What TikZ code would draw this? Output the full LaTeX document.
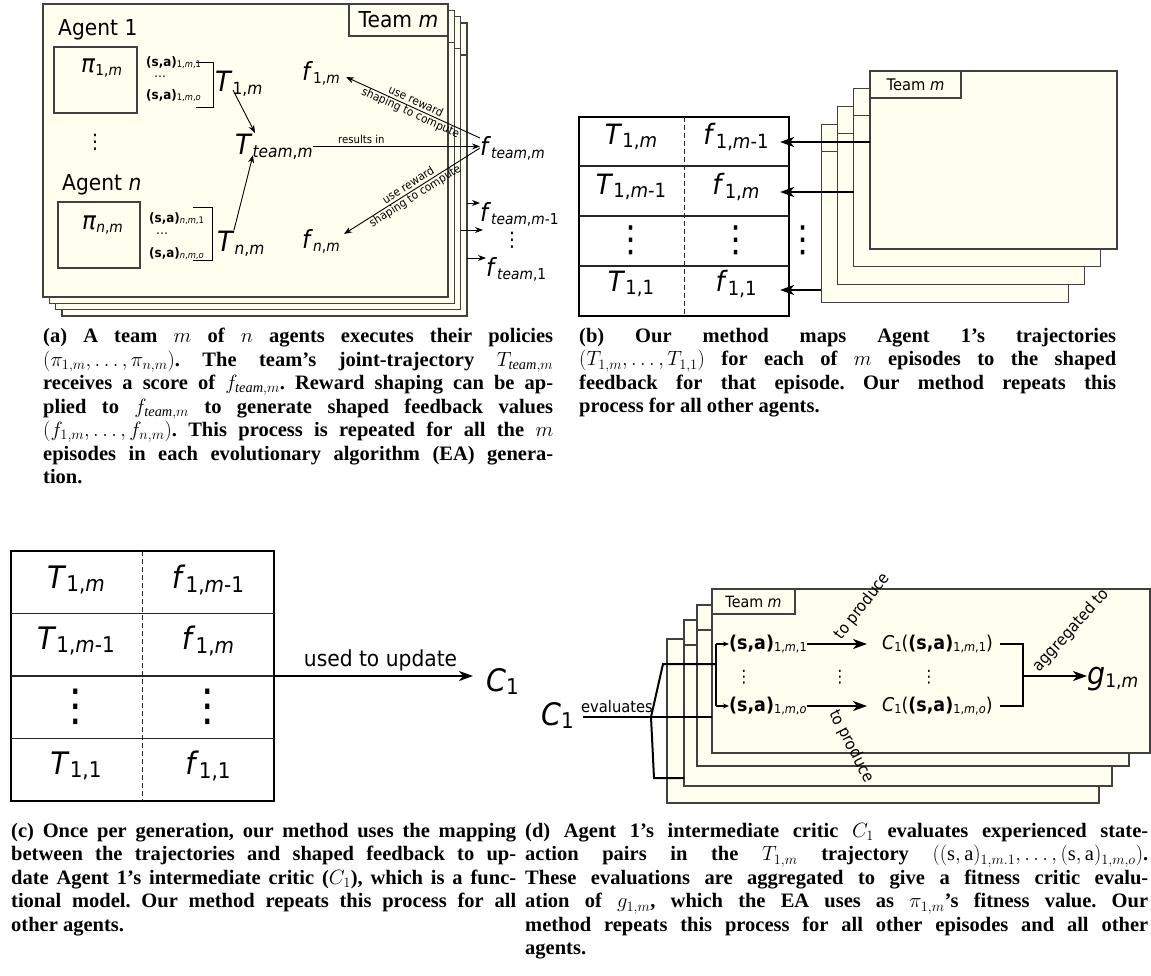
\documentclass[tikz,border=0pt]{standalone}
\usepackage{fontspec}
\usepackage{graphicx}
\setmainfont{Liberation Serif}
\newfontfamily\dia[FakeStretch=0.92]{DejaVu Sans}
\usetikzlibrary{arrows.meta,calc}

\definecolor{cream}{RGB}{255,255,240}
\definecolor{framegray}{RGB}{64,64,64}

\newcommand{\fsz}[1]{\fontsize{#1bp}{#1bp}\selectfont}
\newcommand{\sbs}[2][0.6]{\raisebox{-0.12em}{\scalebox{#1}{#2}}}
\newcommand{\vi}[1]{\textit{#1}}
\newlength{\capw}
\newcommand{\jl}[1]{\makebox[\capw][s]{#1}}

\tikzset{
    teamframe/.style={draw=framegray, fill=cream, line width=1.2bp},
    polbox/.style={draw=framegray, line width=1.2bp},
    brack/.style={draw=black, line width=0.9bp},
    tbl/.style={draw=black, line width=2.2bp, inner sep=0pt},
    rowline/.style={draw=black!85, line width=1.3bp},
    colsep/.style={draw=black!85, line width=0.9bp, dash pattern=on 5bp off 3bp},
    txt/.style={inner sep=0pt, font=\dia\fsz{#1}},
    txtb/.style={inner sep=0pt, font=\dia\bfseries\fsz{#1}},
    thinarr/.style={-{Stealth[length=8bp,width=6bp]}, line width=0.9bp},
    thickarr/.style={-{Stealth[length=14bp,width=10bp,inset=4bp]}, line width=2.2bp},
    forkline/.style={line width=2bp},
    smallarr/.style={-{Stealth[length=6bp,width=5bp]}, line width=2bp},
    capt/.style={inner sep=0pt, anchor=north west, align=left,
        font=\fontsize{20.5bp}{23.5bp}\bfseries\frenchspacing\selectfont,
        execute at begin node={\setlength{\capw}{#1}}},
}

\begin{document}
\begin{tikzpicture}[x=1bp,y=-1bp]
    \useasboundingbox (0,0) rectangle (1151,976);

    % ---------- (a) one team of n agents ----------
    % team frames, back to front
    \foreach \k in {3,2,1,0} {
        \draw [teamframe] ({43+6.3*\k},{4+6.3*\k}) rectangle ({448+6.3*\k},{297+6.3*\k});
        \draw [teamframe] ({349+6.3*\k},{4+6.3*\k}) rectangle ({448+6.3*\k},{36+6.3*\k});
    }
    \node [txt=22] (aTeam) at (398.5,20) {Team \vi{m}};

    % agent 1
    \node [txt=22,anchor=base west] (agent1) at (58,35) {Agent 1};
    \draw [polbox] (54,47) rectangle (137,113);
    \node [txt=25,anchor=base west] (pi1) at (81,72) {\vi{π}\sbs{1,\vi{m}}};
    \node [txtb=13,anchor=base west] (sa1a) at (146,66) {(s,a)\sbs[0.7]{\mdseries 1,\vi{m},1}};
    \node [txt=13] (sa1dots) at (160,77) {\dots};
    \node [txtb=13,anchor=base west] (sa1b) at (146,99) {(s,a)\sbs[0.7]{\mdseries 1,\vi{m},\vi{o}}};
    \draw [brack] (196,62) -- (213,62) -- (213,107) -- (196,107);
    \node [txt=28,anchor=base west] (T1) at (215,91) {\vi{T}\sbs{1,\vi{m}}};

    \node [txt=20] (adots) at (95,142) {⋮};

    % agent n
    \node [txt=22,anchor=base west] (agentn) at (62,190) {Agent \vi{n}};
    \draw [polbox] (58,202) rectangle (140,268);
    \node [txt=25,anchor=base west] (pin) at (82,229) {\vi{π}\sbs{\vi{n},\vi{m}}};
    \node [txtb=13,anchor=base west] (sana) at (149,222) {(s,a)\sbs[0.7]{\mdseries\vi{n},\vi{m},1}};
    \node [txt=13] (sandots) at (162,234) {\dots};
    \node [txtb=13,anchor=base west] (sanb) at (149,257) {(s,a)\sbs[0.7]{\mdseries\vi{n},\vi{m},\vi{o}}};
    \draw [brack] (193,207) -- (212,207) -- (212,260) -- (193,260);
    \node [txt=28,anchor=base west] (Tn) at (217,251) {\vi{T}\sbs{\vi{n},\vi{m}}};

    % joint trajectory and shaped feedback
    \node [txt=28,anchor=base west] (Tteam) at (235,154) {\vi{T}\sbs{\vi{team},\vi{m}}};
    \node [txt=25,anchor=base west] (f1) at (302,80) {\vi{f}\sbs{1,\vi{m}}};
    \node [txt=25,anchor=base west] (fn) at (302,248) {\vi{f}\sbs{\vi{n},\vi{m}}};
    \node [txt=25,anchor=base west] (fteam) at (480,155) {\vi{f}\sbs{\vi{team},\vi{m}}};

    \draw [thinarr] ($(T1.base west)+(18,-1)$) -- ($(Tteam.base west)+(20,-21)$);
    \draw [thinarr] ($(Tn.base west)+(17,-21)$) -- ($(Tteam.base west)+(18,1)$);
    \draw [thinarr] (Tteam.east) -- (Tteam.east -| fteam.west)
        node [pos=0.29,above=2bp,txt=11] (resultsin) {results in};
    \draw [thinarr] ($(fteam.base west)+(0,-17)$) -- ($(f1.base east)+(6,-3)$)
        node [midway,sloped,align=center,inner sep=0pt,font=\dia\fontsize{11.5bp}{12.5bp}\selectfont] (shape1) {use reward\\shaping to compute};
    \draw [thinarr] ($(fteam.base west)+(0,-7)$) -- ($(fn.base east)+(4,-14)$)
        node [midway,sloped,align=center,inner sep=0pt,font=\dia\fontsize{11.5bp}{12.5bp}\selectfont] (shapen) {use reward\\shaping to compute};

    % other episodes of the generation
    \node [txt=25,anchor=base west] (ftm1) at (480,221) {\vi{f}\sbs{\vi{team},\vi{m}-1}};
    \node [txt=20] (fdots) at (512,240) {⋮};
    \node [txt=25,anchor=base west] (ft1) at (486,276) {\vi{f}\sbs{\vi{team},1}};
    \coordinate (aEdge1) at (466.9,203);
    \coordinate (aEdge2) at (460.6,230);
    \coordinate (aEdge3) at (466.9,258);
    \coordinate (aTipDots) at (483,230);
    \draw [thinarr] (aEdge1) -- (aEdge1 -| ftm1.west);
    \draw [thinarr] (aEdge2) -- (aTipDots);
    \draw [thinarr] (aEdge3) -- (aEdge3 -| ft1.west);

    % ---------- (b) trajectories mapped to feedback ----------
    \foreach \k in {3,2,1,0} {
        \draw [teamframe] ({870-16.3*\k},{71+17.7*\k}) rectangle ({1117-16.3*\k},{249+17.7*\k});
        \draw [teamframe] ({870-16.3*\k},{71+17.7*\k}) rectangle ({961-16.3*\k},{98+17.7*\k});
    }
    \node [txt=16] (bTeam) at (915.5,84.5) {Team \vi{m}};

    \node [tbl,minimum width=210bp,minimum height=199bp] (bTab) at (684,216.5) {};
    \foreach \y in {166,216,266} \draw [rowline] (579,\y) -- (789,\y);
    \draw [colsep] (684,117) -- (684,316);
    \node [txt=28] (bT1) at (631,137) {\vi{T}\sbs[0.7]{1,\vi{m}}};
    \node [txt=28] (bf1) at (736,137) {\vi{f}\sbs[0.7]{1,\vi{m}-1}};
    \node [txt=28] (bT2) at (631,187) {\vi{T}\sbs[0.7]{1,\vi{m}-1}};
    \node [txt=28] (bf2) at (736,187) {\vi{f}\sbs[0.7]{1,\vi{m}}};
    \node [txt=36] (bT3) at (631,240) {⋮};
    \node [txt=36] (bf3) at (736,240) {⋮};
    \node [txt=36] (bdots) at (803,240) {⋮};
    \node [txt=28] (bT4) at (631,284) {\vi{T}\sbs[0.7]{1,1}};
    \node [txt=28] (bf4) at (736,284) {\vi{f}\sbs[0.7]{1,1}};

    \coordinate (bEdge1) at (870,142);
    \coordinate (bEdge2) at (853.7,192);
    \coordinate (bEdge4) at (821.1,290);
    \draw [thickarr,shorten >=-10bp] (bEdge1) -- (bEdge1 -| bTab.east);
    \draw [thickarr,shorten >=-10bp] (bEdge2) -- (bEdge2 -| bTab.east);
    \draw [thickarr,shorten >=-10bp] (bEdge4) -- (bEdge4 -| bTab.east);

    % ---------- (c) critic update ----------
    \node [tbl,minimum width=263bp,minimum height=250bp] (cTab) at (142.5,676) {};
    \foreach \y in {613.5,676,738.5} \draw [rowline] (11,\y) -- (274,\y);
    \draw [colsep] (142,551) -- (142,801);
    \node [txt=31] (cT1) at (76,580) {\vi{T}\sbs[0.7]{1,\vi{m}}};
    \node [txt=31] (cf1) at (208,580) {\vi{f}\sbs[0.7]{1,\vi{m}-1}};
    \node [txt=31] (cT2) at (76,641) {\vi{T}\sbs[0.7]{1,\vi{m}-1}};
    \node [txt=31] (cf2) at (208,641) {\vi{f}\sbs[0.7]{1,\vi{m}}};
    \node [txt=44] (cT3) at (76,707) {⋮};
    \node [txt=44] (cf3) at (208,707) {⋮};
    \node [txt=31] (cT4) at (76,766) {\vi{T}\sbs[0.7]{1,1}};
    \node [txt=31] (cf4) at (208,766) {\vi{f}\sbs[0.7]{1,1}};

    \node [txt=31,anchor=base west] (cC1) at (486,691) {\vi{C}\sbs[0.7]{1}};
    \draw [thickarr,shorten >=13bp] (cTab.east) -- (cTab.east -| cC1.west)
        node [midway,above=4bp,txt=22] (cUsed) {used to update};

    % ---------- (d) critic evaluates one team ----------
    \foreach \x/\y/\w/\h in {667/639/432/164, 684/620/428/166, 697/605/432/161, 712/589/438/164} {
        \draw [teamframe] (\x,\y) rectangle ++(\w,\h);
        \draw [teamframe] (\x,\y) rectangle ++(83,25);
    }
    \node [txt=15.5] (dTeam) at (753.5,601.5) {Team \vi{m}};

    \node [txt=31,anchor=base west] (dC1) at (541,725) {\vi{C}\sbs[0.7]{1}};
    % fork of the evaluates line
    \coordinate (dFork) at (651,717);
    \coordinate (dUp) at (663,664);
    \coordinate (dUpEnd) at (716,664);
    \coordinate (dMidEnd) at (712,717);
    \coordinate (dDown) at (654,778);
    \coordinate (dDownEnd) at (684,778);
    \coordinate (dBrTop) at (716,644);
    \coordinate (dBrBot) at (716,706);
    \draw [forkline] ($(dC1.east |- dFork)+(9,0)$) -- (dFork)
        node [midway,above=3bp,txt=16] (dEval) {evaluates};
    \draw [forkline] (dUpEnd) -- (dUp) -- (dFork) -- (dDown) -- (dDownEnd);
    \draw [forkline] (dFork) -- (dMidEnd);
    \draw [forkline] (dBrTop) -- (dBrBot);

    \node [txtb=19,anchor=west] (dSA1) at (729,644) {(s,a)\sbs[0.65]{\mdseries 1,\vi{m},1}};
    \node [txtb=19,anchor=west] (dSAo) at (729,706) {(s,a)\sbs[0.65]{\mdseries 1,\vi{m},\vi{o}}};
    \draw [smallarr] (dBrTop) -- (dSA1.west);
    \draw [smallarr] (dBrBot) -- (dSAo.west);

    \node [txt=17] (dd1) at (744,677) {⋮};
    \node [txt=17] (dd2) at (840,677) {⋮};
    \node [txt=17] (dd3) at (929,677) {⋮};

    \node [txt=19,anchor=west] (dCS1) at (882,644) {\vi{C}\sbs[0.65]{1}(\textbf{(s,a)}\sbs[0.65]{1,\vi{m},1})};
    \node [txt=19,anchor=west] (dCSo) at (882,706) {\vi{C}\sbs[0.65]{1}(\textbf{(s,a)}\sbs[0.65]{1,\vi{m},\vi{o}})};
    \draw [thickarr,shorten >=15bp] (dSA1.east) -- (dSA1.east -| dCS1.west)
        node [pos=0.5,anchor=south west,rotate=52,txt=16] (dProd1) {to produce};
    \draw [thickarr,shorten >=15bp] (dSAo.east) -- (dSAo.east -| dCSo.west)
        node [pos=0.45,anchor=north west,rotate=-63,txt=16] (dProdo) {to produce};

    % aggregation
    \coordinate (dJoin) at (1023,676);
    \node [txt=31,anchor=base west] (dG) at (1087,684) {\vi{g}\sbs{1,\vi{m}}};
    \draw [forkline] ($(dCS1.east)+(7,0)$) -| (dJoin) |- ($(dCSo.east)+(7,0)$);
    \draw [thickarr] (dJoin) -- (dJoin -| dG.west)
        node [pos=0.3,anchor=south west,rotate=48,txt=16] (dAgg) {aggregated to};

    % ---------- captions ----------
    \node [capt=510bp] (capA) at (43,328) {%
        \jl{(a) A team $m$ of $n$ agents executes their policies}\\
        \jl{$(\pi_{1,m}, \ldots, \pi_{n,m})$. The team's joint-trajectory $T_{\mathit{team},m}$}\\
        \jl{receives a score of $f_{\mathit{team},m}$. Reward shaping can be ap-}\\
        \jl{plied to $f_{\mathit{team},m}$ to generate shaped feedback values}\\
        \jl{$(f_{1,m}, \ldots, f_{n,m})$. This process is repeated for all the $m$}\\
        \jl{episodes in each evolutionary algorithm (EA) genera-}\\
        tion.};
    \node [capt=537bp] (capB) at (579,328) {%
        \jl{(b) Our method maps Agent 1's trajectories}\\
        \jl{$(T_{1,m}, \ldots, T_{1,1})$ for each of $m$ episodes to the shaped}\\
        \jl{feedback for that episode. Our method repeats this}\\
        process for all other agents.};
    \node [capt=505bp] (capC) at (11,823) {%
        \jl{(c) Once per generation, our method uses the mapping}\\
        \jl{between the trajectories and shaped feedback to up-}\\
        \jl{date Agent 1's intermediate critic ($C_1$), which is a func-}\\
        \jl{tional model. Our method repeats this process for all}\\
        other agents.};
    \node [capt=623bp] (capD) at (525,823) {%
        \jl{(d) Agent 1's intermediate critic $C_1$ evaluates experienced state-}\\
        \jl{action pairs in the $T_{1,m}$ trajectory $((\mathrm{s},\mathrm{a})_{1,m.1}, \ldots, (\mathrm{s},\mathrm{a})_{1,m,o})$.}\\
        \jl{These evaluations are aggregated to give a fitness critic evalu-}\\
        \jl{ation of $g_{1,m}$, which the EA uses as $\pi_{1,m}$'s fitness value. Our}\\
        \jl{method repeats this process for all other episodes and all other}\\
        agents.};
\end{tikzpicture}
\end{document}
